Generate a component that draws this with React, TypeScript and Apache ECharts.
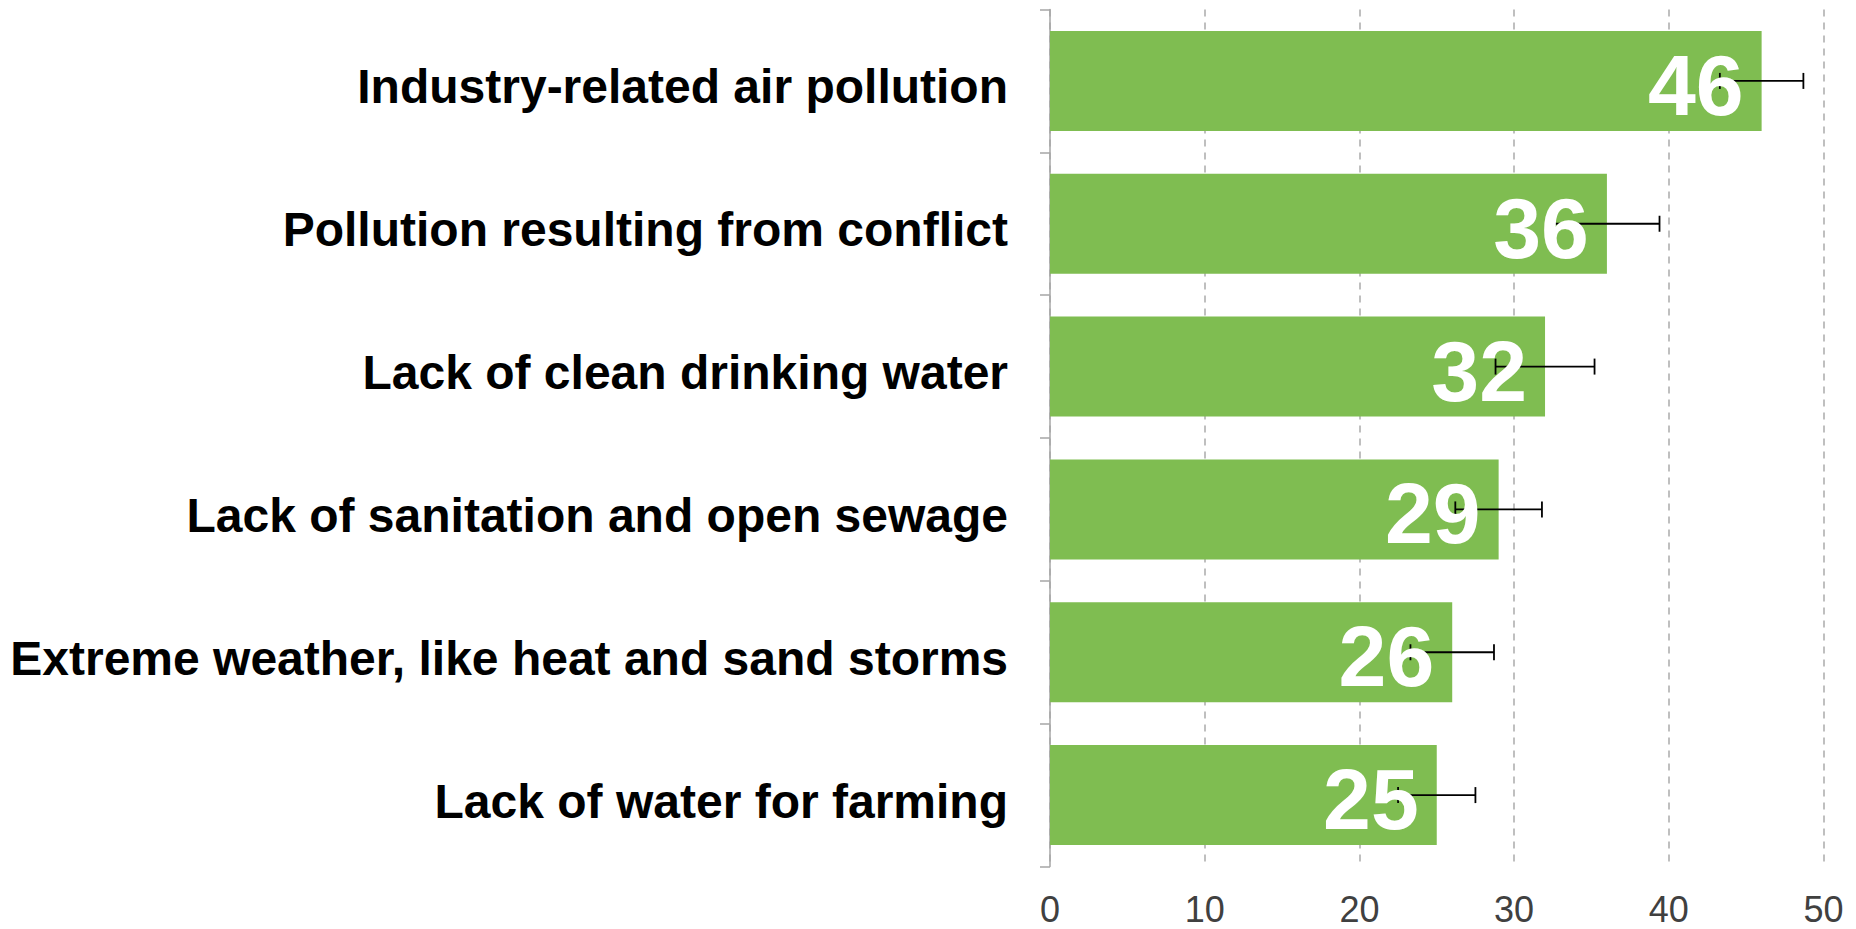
import React, { useEffect, useRef } from "react";
import * as echarts from "echarts";

const categories = [
  "Industry-related air pollution",
  "Pollution resulting from conflict",
  "Lack of clean drinking water",
  "Lack of sanitation and open sewage",
  "Extreme weather, like heat and sand storms",
  "Lack of water for farming",
];
const values = [46, 36, 32, 29, 26, 25];
const errors = [2.7, 3.4, 3.2, 2.8, 2.7, 2.5];
const xTicks = [0, 10, 20, 30, 40, 50];

const FONT = "'Liberation Sans', Arial, sans-serif";

export default function App() {
  const ref = useRef<HTMLDivElement>(null);
  useEffect(() => {
    if (!ref.current) return;
    const chart = echarts.init(ref.current, null, { renderer: "svg" });
    const errData = values.map((v, i) => [v, i, errors[i]]);
    chart.setOption({
      animation: false,
      backgroundColor: "#fff",
      grid: { left: 1050, right: 32.5, top: 9.5, bottom: 62.5, containLabel: false },
      xAxis: {
        type: "value",
        min: xTicks[0],
        max: xTicks[xTicks.length - 1],
        interval: 10,
        axisLine: { show: false },
        axisTick: { show: false },
        axisLabel: { color: "#404040", fontSize: 36, fontFamily: FONT, margin: 25 },
        splitLine: {
          show: true,
          lineStyle: { color: "#aaaaaa", width: 1.5, type: [7, 6] },
        },
      },
      yAxis: {
        type: "category",
        data: categories,
        inverse: true,
        axisLine: { show: true, lineStyle: { color: "#a6a6a6", width: 1.5 } },
        axisTick: { show: true, length: 10, lineStyle: { color: "#a6a6a6", width: 1.5 } },
        axisLabel: {
          color: "#000",
          fontSize: 48,
          fontWeight: "bold",
          fontFamily: FONT,
          margin: 42,
          verticalAlign: "top",
          lineHeight: 12,
        },
        splitLine: { show: false },
      },
      series: [
        {
          type: "bar",
          data: values,
          barCategoryGap: "30%",
          itemStyle: { color: "#7fbd51" },
          z: 2,
        },
        {
          type: "custom",
          data: errData,
          encode: { x: 0, y: 1 },
          z: 3,
          renderItem: (params: any, api: any) => {
            const v = api.value(0);
            const c = api.value(1);
            const e = api.value(2);
            const lo = api.coord([v - e, c]);
            const hi = api.coord([v + e, c]);
            const h = 8;
            const style = { stroke: "#000", lineWidth: 1.8 };
            return {
              type: "group",
              children: [
                { type: "line", shape: { x1: lo[0], y1: lo[1], x2: hi[0], y2: hi[1] }, style },
                { type: "line", shape: { x1: lo[0], y1: lo[1] - h, x2: lo[0], y2: lo[1] + h }, style },
                { type: "line", shape: { x1: hi[0], y1: hi[1] - h, x2: hi[0], y2: hi[1] + h }, style },
              ],
            };
          },
        },
        {
          type: "bar",
          data: values,
          barGap: "-100%",
          barCategoryGap: "30%",
          itemStyle: { color: "rgba(0,0,0,0)" },
          z: 4,
          label: {
            show: true,
            position: "insideRight",
            distance: 18,
            offset: [0, 4],
            color: "#fff",
            fontSize: 86,
            fontWeight: "bold",
            fontFamily: FONT,
          },
        },
      ],
    });
    return () => chart.dispose();
  }, []);
  return (
    <div
      ref={ref}
      style={{ position: "fixed", left: 0, top: 0, width: 1856, height: 929 }}
    />
  );
}
